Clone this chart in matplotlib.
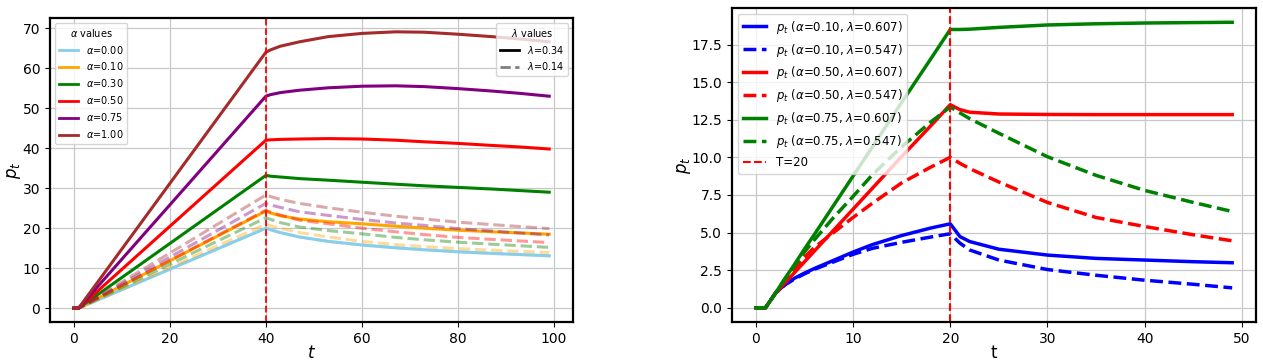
import matplotlib
matplotlib.use("Agg")
import matplotlib.pyplot as plt
from matplotlib.lines import Line2D

# ---------------- left panel: p_t for several alpha, two lambdas ----------------
t_left = [0, 1, 40, 41, 43, 47, 53, 60, 67, 73, 80, 87, 93, 99]
alpha_labels = ["0.00", "0.10", "0.30", "0.50", "0.75", "1.00"]
alpha_colors = ["skyblue", "orange", "green", "red", "purple", "brown"]

# lambda = 0.34 (solid)
p_a000_l034 = [0, 0, 20.0, 19.6, 18.9, 17.8, 16.7, 15.8, 15.1, 14.6, 14.1, 13.7, 13.4, 13.1]
p_a010_l034 = [0, 0, 24.3, 23.8, 23.1, 22.3, 21.6, 21.1, 20.5, 20.0, 19.5, 19.1, 18.8, 18.5]
p_a030_l034 = [0, 0, 33.2, 33.0, 32.8, 32.4, 32.0, 31.5, 31.0, 30.6, 30.2, 29.8, 29.4, 29.0]
p_a050_l034 = [0, 0, 42.0, 42.1, 42.2, 42.3, 42.4, 42.3, 42.0, 41.6, 41.2, 40.7, 40.3, 39.8]
p_a075_l034 = [0, 0, 53.0, 53.4, 53.9, 54.5, 55.1, 55.5, 55.6, 55.4, 54.9, 54.3, 53.7, 53.0]
p_a100_l034 = [0, 0, 64.0, 64.6, 65.5, 66.6, 67.9, 68.7, 69.1, 69.0, 68.5, 67.9, 67.3, 66.6]

# lambda = 0.14 (dashed)
p_a000_l014 = [0, 0, 20.0, 19.6, 18.9, 17.8, 16.7, 15.8, 15.1, 14.6, 14.1, 13.7, 13.4, 13.1]
p_a010_l014 = [0, 0, 21.0, 20.6, 20.0, 18.9, 17.8, 16.7, 15.9, 15.4, 14.9, 14.5, 14.2, 13.9]
p_a030_l014 = [0, 0, 22.6, 22.2, 21.4, 20.3, 19.4, 18.6, 17.7, 17.1, 16.5, 16.0, 15.6, 15.2]
p_a050_l014 = [0, 0, 24.5, 24.0, 23.3, 22.0, 21.1, 20.0, 19.1, 18.4, 17.7, 17.2, 16.8, 16.4]
p_a075_l014 = [0, 0, 26.2, 25.8, 25.2, 24.1, 23.2, 22.2, 21.3, 20.7, 19.9, 19.3, 18.8, 18.3]
p_a100_l014 = [0, 0, 28.3, 27.9, 27.2, 26.2, 25.1, 24.0, 23.0, 22.3, 21.5, 20.9, 20.4, 19.9]

left_solid = [p_a000_l034, p_a010_l034, p_a030_l034, p_a050_l034, p_a075_l034, p_a100_l034]
left_dashed = [p_a000_l014, p_a010_l014, p_a030_l014, p_a050_l014, p_a075_l014, p_a100_l014]
T_left = 40

# ---------------- right panel ----------------
t_right = [0, 1, 2, 3, 4, 5, 6, 8, 10, 12, 15, 18, 20, 21, 22, 25, 30, 35, 40, 45, 49]
p_a010_l607 = [0, 0, 0.95, 1.55, 1.97, 2.3, 2.6, 3.15, 3.7, 4.2, 4.8, 5.3, 5.58,
               4.73, 4.40, 3.89, 3.50, 3.28, 3.17, 3.06, 2.99]
p_a010_l547 = [0, 0, 0.95, 1.52, 1.92, 2.25, 2.55, 3.05, 3.55, 3.95, 4.35, 4.7, 4.92,
               4.29, 3.84, 3.17, 2.54, 2.16, 1.83, 1.56, 1.32]
p_a050_l607 = [0, 0, 0.95, 1.65, 2.35, 3.05, 3.75, 5.15, 6.55, 7.95, 10.05, 12.1, 13.5,
               13.17, 13.0, 12.88, 12.85, 12.84, 12.84, 12.84, 12.84]
p_a050_l547 = [0, 0, 0.95, 1.8, 2.6, 3.35, 4.0, 5.0, 6.0, 6.95, 8.3, 9.35, 10.0,
               9.6, 9.25, 8.36, 7.0, 6.0, 5.4, 4.85, 4.45]
p_a075_l607 = [0, 0, 0.95, 1.95, 2.9, 3.9, 4.85, 6.8, 8.75, 10.7, 13.65, 16.55, 18.5,
               18.5, 18.52, 18.64, 18.8, 18.88, 18.93, 18.96, 18.98]
p_a075_l547 = [0, 0, 0.95, 1.9, 2.8, 3.7, 4.5, 6.0, 7.4, 8.85, 10.7, 12.35, 13.35,
               12.95, 12.57, 11.6, 10.04, 8.8, 7.8, 7.0, 6.4]
T_right = 20

right_series = [
    (p_a010_l607, "blue", "-", r"$p_t$ ($\alpha$=0.10, $\lambda$=0.607)"),
    (p_a010_l547, "blue", "--", r"$p_t$ ($\alpha$=0.10, $\lambda$=0.547)"),
    (p_a050_l607, "red", "-", r"$p_t$ ($\alpha$=0.50, $\lambda$=0.607)"),
    (p_a050_l547, "red", "--", r"$p_t$ ($\alpha$=0.50, $\lambda$=0.547)"),
    (p_a075_l607, "green", "-", r"$p_t$ ($\alpha$=0.75, $\lambda$=0.607)"),
    (p_a075_l547, "green", "--", r"$p_t$ ($\alpha$=0.75, $\lambda$=0.547)"),
]

fig = plt.figure(figsize=(12.63, 3.6), dpi=100)
ax1 = fig.add_axes([50 / 1263, 38 / 360, 523 / 1263, 304 / 360])
ax2 = fig.add_axes([732 / 1263, 38 / 360, 524 / 1263, 314 / 360])

# left
for solid, dashed, col in zip(left_solid, left_dashed, alpha_colors):
    ax1.plot(t_left, solid, color=col, lw=2.2, ls="-")
    ax1.plot(t_left, dashed, color=col, lw=2.2, ls="--", alpha=0.4)
ax1.axvline(T_left, color="red", ls="--", lw=1.3)

alpha_handles = [Line2D([0], [0], color=c, lw=2) for c in alpha_colors]
leg1 = ax1.legend(alpha_handles, [rf"$\alpha$={a}" for a in alpha_labels],
                  title=r"$\alpha$ values", loc="upper left", fontsize=7,
                  title_fontsize=7, framealpha=0.8)
ax1.add_artist(leg1)
lam_handles = [Line2D([0], [0], color="black", lw=2, ls="-"),
               Line2D([0], [0], color="gray", lw=2, ls="--")]
ax1.legend(lam_handles, [r"$\lambda$=0.34", r"$\lambda$=0.14"],
           title=r"$\lambda$ values", loc="upper right", fontsize=7,
           title_fontsize=7, framealpha=0.8)
ax1.set_xlabel(r"$t$", fontsize=12, labelpad=-1)
ax1.set_ylabel(r"$p_t$", fontsize=12, labelpad=0)

# right
for vals, col, ls, lab in right_series:
    ax2.plot(t_right, vals, color=col, ls=ls, lw=2.5, label=lab)
ax2.axvline(T_right, color="red", ls="--", lw=1.5, label=f"T={T_right}")
ax2.legend(loc="upper left", fontsize=8.5, labelspacing=0.5, framealpha=0.8)
ax2.set_xlabel("t", fontsize=12, labelpad=-1)
ax2.set_ylabel(r"$p_t$", fontsize=12, labelpad=-1)

for ax in (ax1, ax2):
    ax.grid(True, color="#c8c8c8", lw=0.9)
    ax.tick_params(labelsize=10)
    for s in ax.spines.values():
        s.set_linewidth(1.6)
        s.set_color("black")

fig.savefig("out.png", dpi=100)
